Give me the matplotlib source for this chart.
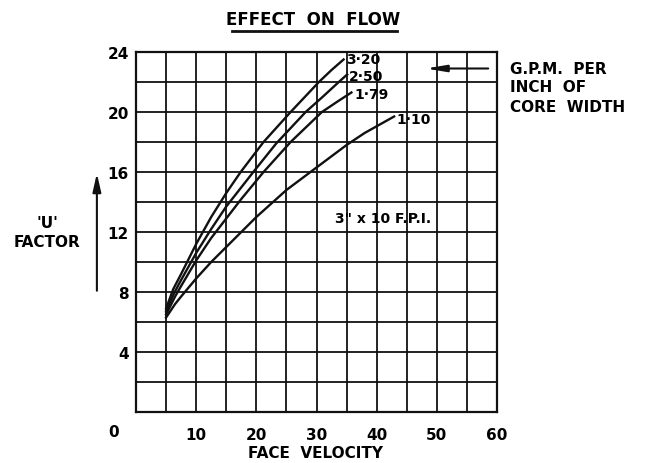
import numpy as np
import matplotlib
matplotlib.use("Agg")
import matplotlib.pyplot as plt
from matplotlib.lines import Line2D

# curves (face velocity, U factor)
x_320 = [5, 6.2, 7.5, 10, 12.5, 15, 17.4, 21.2, 25.7, 30.4, 32.5, 34.5]
y_320 = [6.9, 8.2, 9.2, 11.2, 13.0, 14.6, 16.0, 18.0, 20.0, 22.0, 22.8, 23.5]

x_250 = [5, 6.3, 7.5, 10, 12.5, 15, 19.5, 23.3, 28.2, 31.0, 33.7, 35.1]
y_250 = [6.7, 7.9, 8.8, 10.6, 12.2, 13.7, 16.0, 17.9, 20.0, 21.0, 22.0, 22.5]

x_179 = [5, 6.5, 7.5, 10, 12.5, 15, 17.5, 21.2, 25.7, 30.9, 33.5, 35.8]
y_179 = [6.5, 7.7, 8.4, 10.1, 11.6, 12.9, 14.2, 16.0, 18.0, 20.0, 20.7, 21.3]

x_110 = [5, 6.5, 7.5, 10, 12.5, 15, 20, 25, 29, 35, 38, 42.9]
y_110 = [6.3, 7.2, 7.7, 8.9, 10.0, 11.0, 13.0, 14.8, 16.0, 17.8, 18.6, 19.7]

curvas = [(x_320, y_320), (x_250, y_250), (x_179, y_179), (x_110, y_110)]

x_ticks = [10, 20, 30, 40, 50, 60]
y_ticks = [4, 8, 12, 16, 20, 24]

plt.rcParams['font.family'] = 'DejaVu Sans'
plt.rcParams['font.weight'] = 'bold'

fig = plt.figure(figsize=(6.47, 4.64), dpi=100)
W, H = 647, 464
ax = fig.add_axes([136 / W, 1 - 413 / H, (497 - 136) / W, (413 - 53) / H])

ax.set_xlim(0, 60)
ax.set_ylim(0, 24)
ax.set_xticks(x_ticks)
ax.set_xticklabels([str(v) for v in x_ticks], fontsize=11, fontweight='bold')
ax.set_yticks(y_ticks)
ax.set_yticklabels([str(v) for v in y_ticks], fontsize=11, fontweight='bold')
ax.set_xticks(np.arange(0, 61, 5), minor=True)
ax.set_yticks(np.arange(0, 25, 2), minor=True)
ax.tick_params(which='both', length=0)
ax.tick_params(axis='x', pad=11)
ax.tick_params(axis='y', pad=5)
ax.grid(which='both', color='#111111', linewidth=1.3)
for s in ax.spines.values():
    s.set_linewidth(1.6)
    s.set_color('#111111')

for xs, ys in curvas:
    ax.plot(xs, ys, color='#111111', linewidth=1.7, solid_joinstyle='round')

# labels at the curve ends
ax.text(35.0, 23.5, "3·20", fontsize=10, va='center', ha='left')
ax.text(35.4, 22.4, "2·50", fontsize=10, va='center', ha='left')
ax.text(36.3, 21.2, "1·79", fontsize=10, va='center', ha='left')
ax.text(43.3, 19.5, "1·10", fontsize=10, va='center', ha='left')

ax.text(41, 12.9, '3" x 10 F.P.I.', fontsize=10, va='center', ha='center')

# legend arrow
ax.annotate("", xy=(47.7, 22.9), xytext=(59, 22.9),
            arrowprops=dict(arrowstyle='-|>,head_length=1.2,head_width=0.2',
                            color='#111111', lw=1.5))

# origin label
ax.text(-3.8, -1.27, "0", fontsize=11, ha='center', va='center', clip_on=False)

# y arrow
ax.annotate("", xy=(-6.5, 16.1), xytext=(-6.5, 7.9), annotation_clip=False,
            arrowprops=dict(arrowstyle='-|>,head_length=1.1,head_width=0.25',
                            color='#111111', lw=1.5))

fig.text(47 / W, 1 - 224 / H, "'U'", fontsize=11, ha='center', va='center')
fig.text(47 / W, 1 - 243 / H, "FACTOR", fontsize=11, ha='center', va='center')

fig.text(315 / W, 1 - 454 / H, "FACE  VELOCITY", fontsize=11, ha='center', va='center')

fig.text(313 / W, 1 - 20 / H, "EFFECT  ON  FLOW", fontsize=12, ha='center', va='center')
fig.add_artist(Line2D([232 / W, 397 / W], [1 - 32 / H, 1 - 32 / H],
                      color='#111111', linewidth=2, transform=fig.transFigure))

fig.text(510 / W, 1 - 69 / H, "G.P.M.  PER", fontsize=11, ha='left', va='center')
fig.text(510 / W, 1 - 88 / H, "INCH  OF", fontsize=11, ha='left', va='center')
fig.text(510 / W, 1 - 107 / H, "CORE  WIDTH", fontsize=11, ha='left', va='center')

fig.savefig("out.png", dpi=100)
